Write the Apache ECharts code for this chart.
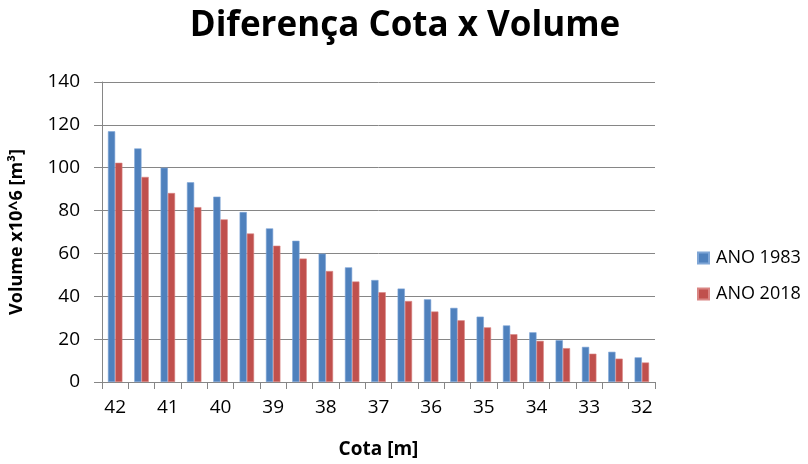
<!DOCTYPE html>
<html>
<head>
<meta charset="utf-8">
<script src="https://cdn.jsdelivr.net/npm/echarts@6/dist/echarts.min.js"></script>
<style>
  html, body { margin: 0; padding: 0; background: #fff; }
  #chart { width: 808px; height: 464px; }
</style>
</head>
<body>
<div id="chart"></div>
<script>
// Elevation levels (m), from top of reservoir down
const cotas = ["42", "41,5", "41", "40,5", "40", "39,5", "39", "38,5", "38", "37,5", "37",
               "36,5", "36", "35,5", "35", "34,5", "34", "33,5", "33", "32,5", "32"];
// Stored volume (x10^6 m³) per elevation
const volume1983 = [117, 109, 100, 93.2, 86.5, 79.3, 71.7, 65.9, 59.9, 53.5, 47.6,
                    43.6, 38.6, 34.6, 30.5, 26.4, 23.2, 19.5, 16.4, 14.1, 11.5];
const volume2018 = [102.3, 95.7, 88.2, 81.6, 75.9, 69.3, 63.6, 57.6, 51.8, 46.9, 41.9,
                    37.8, 32.9, 28.8, 25.5, 22.3, 19.2, 15.8, 13.2, 10.9, 9.1];
const yTicks = { min: 0, max: 140, interval: 20 };

const font = "'Open Sans', 'Noto Sans', sans-serif";
const chart = echarts.init(document.getElementById('chart'), null, { renderer: 'canvas' });

chart.setOption({
  animation: false,
  title: {
    text: 'Diferença Cota x Volume',
    left: 400, top: 4, textAlign: 'center',
    textStyle: { fontFamily: font, fontSize: 35, fontWeight: 'bold', color: '#000' }
  },
  legend: {
    orient: 'vertical',
    left: 692, top: 244,
    itemWidth: 11, itemHeight: 11, itemGap: 18,
    icon: 'rect',
    textStyle: { fontFamily: font, fontSize: 18, color: '#000', padding: [0, 0, 0, 2] },
    data: ['ANO 1983', 'ANO 2018']
  },
  grid: { left: 100, right: 153, top: 82, bottom: 78, containLabel: false },
  xAxis: {
    type: 'category',
    data: cotas,
    name: 'Cota [m]',
    nameLocation: 'middle',
    nameGap: 58,
    nameTextStyle: { fontFamily: font, fontSize: 19, fontWeight: 'bold', color: '#000' },
    axisLine: { lineStyle: { color: '#868686', width: 1 } },
    axisTick: { show: true, interval: 0, length: 7, alignWithLabel: false, lineStyle: { color: '#868686' } },
    axisLabel: { interval: 1, margin: 16, fontFamily: font, fontSize: 19, color: '#000' },
    splitLine: { show: false }
  },
  yAxis: {
    type: 'value',
    min: yTicks.min, max: yTicks.max, interval: yTicks.interval,
    name: 'Volume x10^6 [m³]',
    nameLocation: 'middle',
    nameGap: 76,
    nameRotate: 90,
    nameTextStyle: { fontFamily: font, fontSize: 18, fontWeight: 'bold', color: '#000' },
    axisLine: { show: true, lineStyle: { color: '#868686', width: 1 } },
    axisTick: { show: true, length: 8, lineStyle: { color: '#868686' } },
    axisLabel: { margin: 22, fontFamily: font, fontSize: 19, color: '#000' },
    splitLine: { show: true, lineStyle: { color: '#868686', width: 1 } }
  },
  series: [
    {
      name: 'ANO 1983', type: 'bar', data: volume1983,
      barGap: '0%', barCategoryGap: '45%',
      itemStyle: { color: '#4F81BD', borderColor: '#7FA6D6', borderWidth: 0.6 }
    },
    {
      name: 'ANO 2018', type: 'bar', data: volume2018,
      barGap: '0%', barCategoryGap: '45%',
      itemStyle: { color: '#C0504D', borderColor: '#D98583', borderWidth: 0.6 }
    }
  ]
});
</script>
</body>
</html>
